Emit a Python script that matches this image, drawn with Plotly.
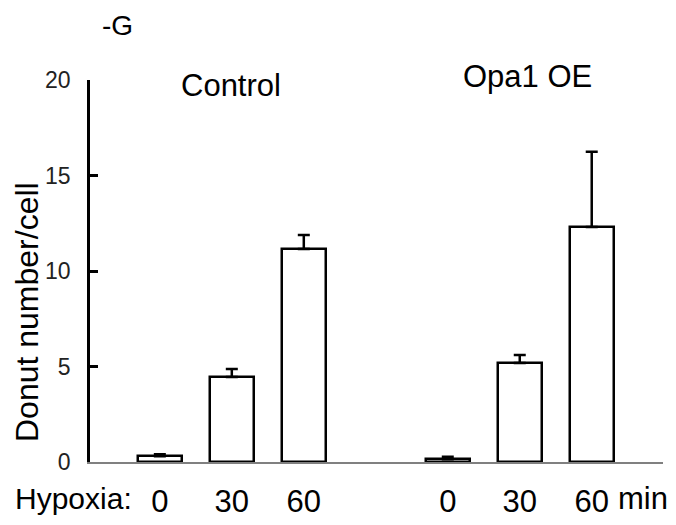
import plotly.graph_objects as go

# Data
positions = [0, 1, 2, 4, 5, 6]
tick_labels = ["0", "30", "60", "0", "30", "60"]
values = [0.3, 4.45, 11.15, 0.15, 5.18, 12.3]
errors = [0.1, 0.42, 0.73, 0.12, 0.42, 3.95]
group_labels = ["Control", "Opa1 OE"]
panel_label = "-G"
y_ticks = [0, 5, 10, 15, 20]
y_title = "Donut number/cell"

FONT = "Arial, Liberation Sans, sans-serif"

fig = go.Figure()
fig.add_trace(go.Bar(
    x=positions, y=values, width=0.61,
    marker=dict(color="white", line=dict(color="black", width=2.5)),
    error_y=dict(type="data", array=errors, arrayminus=[0]*6, symmetric=False,
                 color="black", thickness=2.5, width=6),
    showlegend=False,
))

fig.update_layout(
    width=676, height=525,
    margin=dict(l=90, r=13, t=80, b=63),
    plot_bgcolor="white", paper_bgcolor="white",
    font=dict(family=FONT, color="black"),
    bargap=0,
)
fig.update_xaxes(
    range=[-0.97, 6.99], showgrid=False, zeroline=False, automargin=False,
    showline=True, linecolor="#808080", linewidth=1.5,
    tickvals=positions, ticktext=tick_labels, ticks="",
    tickfont=dict(size=31, family=FONT), ticklabelstandoff=11,
)
fig.update_yaxes(
    range=[0, 20], showgrid=False, zeroline=False, automargin=False,
    showline=True, linecolor="black", linewidth=2.5,
    tickvals=y_ticks, ticks="inside", ticklen=8, tickwidth=2.5, tickcolor="black",
    tickfont=dict(size=23, family=FONT, color="#222"), ticklabelstandoff=12,
)

# y-axis title (sits lower than the axis centre in the reference)
fig.add_annotation(x=0, y=0, xref="paper", yref="paper", text=y_title, showarrow=False,
                   textangle=-90, font=dict(size=32, family=FONT),
                   xanchor="center", yanchor="middle", xshift=-63, yshift=150)

fig.add_annotation(x=1, y=1, xref="x", yref="paper", text=group_labels[0], showarrow=False,
                   font=dict(size=31, family=FONT), yanchor="middle", xshift=-1, yshift=-5)
fig.add_annotation(x=5, y=1, xref="x", yref="paper", text=group_labels[1], showarrow=False,
                   font=dict(size=31, family=FONT), yanchor="middle", xshift=8, yshift=4)
fig.add_annotation(x=0, y=1, xref="paper", yref="paper", text=panel_label, showarrow=False,
                   font=dict(size=28, family=FONT), xanchor="left", yanchor="middle",
                   xshift=10, yshift=55)
fig.add_annotation(x=-0.36, y=0, xref="x", yref="paper", text="Hypoxia:", showarrow=False,
                   font=dict(size=30, family=FONT), xanchor="right", yanchor="middle", yshift=-36)
fig.add_annotation(x=6.34, y=0, xref="x", yref="paper", text="min", showarrow=False,
                   font=dict(size=31, family=FONT), xanchor="left", yanchor="middle", yshift=-36)

fig.write_html("out.html")
